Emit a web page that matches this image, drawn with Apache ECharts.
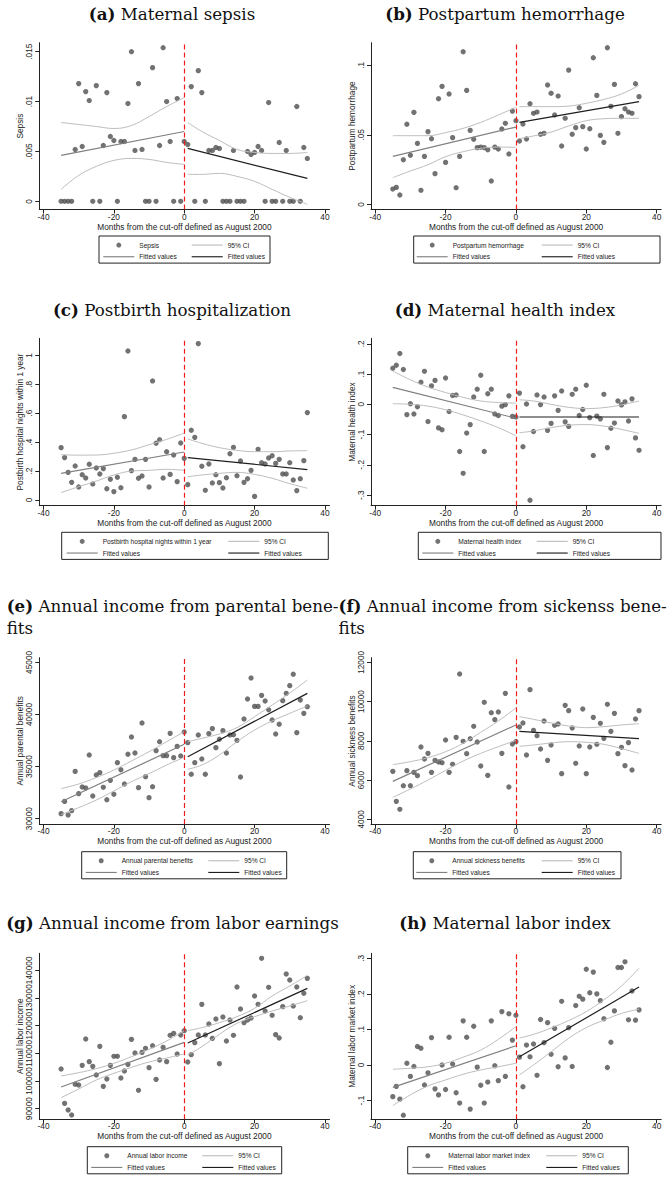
<!DOCTYPE html>
<html><head><meta charset="utf-8">
<script src="https://cdn.jsdelivr.net/npm/echarts@6/dist/echarts.min.js"></script>
<style>html,body{margin:0;padding:0;background:#fff}#c{width:671px;height:1177px}</style>
</head><body><div id="c"></div>
<script>
// ---------- shared x data ----------
const months = [-35,-34,-33,-32,-31,-30,-29,-28,-27,-26,
 -25,-24,-23,-22,-21,-20,-19,-18,-17,-16,
 -15,-14,-13,-12,-11,-10,-9,-8,-7,-6,
 -5,-4,-3,-2,-1,0,1,2,3,4,
 5,6,7,8,9,10,11,12,13,14,
 15,16,17,18,19,20,21,22,23,24,
 25,26,27,28,29,30,31,32,33,34,
 35];
const ciPreX = [-35,-30,-25,-20,-15,-10,-5,0];
const ciPostX = [1,5,10,15,20,25,30,35];
const fitPreX = [-35,0];
const fitPostX = [1,35];
const xTicks = [-40,-20,0,20,40];

// ---------- (a) Maternal sepsis ----------
const sepsisY = [0,0,0,0,0.0052,0.0118,0.0055,0.011,0.0101,0,
 0.0116,0,0.0056,0.0109,0.0065,0.0061,0,0.006,0.006,0.0098,
 0.015,0.0051,0.0118,0.0052,0,0,0.0134,0,0.0056,0.0154,
 0.01,0.006,0,0.0103,0,0.006,0.0057,0.0115,0,0.0131,
 0.0109,0,0.0051,0.0051,0.0054,0.0053,0,0,0,0.0051,
 0,0,0,0.005,0.0047,0.0049,0.0055,0.0051,0,0.0099,
 0,0,0.0059,0,0.0051,0,0,0.0095,0,0.0054,
 0.0043];
const sepsisCiPreHi = [0.0079,0.0077,0.0075,0.0073,0.0076,0.0085,0.0095,0.0104];
const sepsisCiPreLo = [0.0012,0.0026,0.0035,0.0041,0.0043,0.0042,0.0039,0.0037];
const sepsisCiPostHi = [0.0079,0.007,0.0061,0.0052,0.0049,0.0048,0.0048,0.0049];
const sepsisCiPostLo = [0.0027,0.0027,0.0028,0.0025,0.002,0.0012,0.0004,-0.0003];
const sepsisFitPre = [0.0046,0.0070];
const sepsisFitPost = [0.0053,0.0023];
const sepsisTicks = [0,0.005,0.01,0.015];
const sepsisTickLabels = ['0','.005','.01','.015'];

// ---------- (b) Postpartum hemorrhage ----------
const hemorrhageY = [0.011,0.0122,0.0067,0.0321,0.0576,0.0353,0.0662,0.0439,0.0101,0.0345,
 0.0523,0.0472,0.0221,0.076,0.0849,0.0302,0.0794,0.048,0.012,0.0345,
 0.1098,0.082,0.0532,0.0468,0.0408,0.0412,0.0408,0.0393,0.0168,0.0412,
 0.0398,0.0542,0.0583,0.0362,0.0671,0.0602,0.0456,0.0578,0.047,0.0724,
 0.0655,0.0664,0.0504,0.0511,0.0859,0.0799,0.0643,0.0779,0.042,0.0619,
 0.0966,0.0504,0.0552,0.0695,0.0559,0.0398,0.0544,0.1055,0.0784,0.0496,
 0.0446,0.1127,0.0705,0.0863,0.0511,0.0631,0.0688,0.0664,0.0655,0.0868,
 0.0775];
const hemorrhageCiPreHi = [0.0494,0.0494,0.0494,0.0516,0.0547,0.059,0.0643,0.0698];
const hemorrhageCiPreLo = [0.0192,0.024,0.0285,0.0343,0.0379,0.0403,0.0412,0.041];
const hemorrhageCiPostHi = [0.0703,0.0703,0.0703,0.0707,0.0727,0.0755,0.0794,0.0856];
const hemorrhageCiPostLo = [0.0472,0.0492,0.052,0.0564,0.0602,0.0616,0.0619,0.0619];
const hemorrhageFitPre = [0.0345,0.0556];
const hemorrhageFitPost = [0.059,0.0739];
const hemorrhageTicks = [0,0.05,0.1];
const hemorrhageTickLabels = ['0','.05','.1'];

// ---------- (c) Postbirth hospitalization ----------
const hospY = [0.362,0.293,0.191,0.122,0.235,0.09,0.175,0.152,0.247,0.111,
 0.221,0.18,0.217,0.078,0.143,0.058,0.157,0.085,0.576,1.03,
 0.203,0.281,0.15,0.166,0.281,0.09,0.823,0.392,0.417,0.152,
 0.334,0.177,0.311,0.127,0.394,0.288,0.106,0.482,0.433,1.081,
 0.233,0.067,0.249,0.118,0.175,0.12,0.083,0.154,0.32,0.364,
 0.168,0.27,0.122,0.147,0.205,0.025,0.35,0.258,0.249,0.29,
 0.306,0.253,0.281,0.18,0.18,0.258,0.138,0.065,0.147,0.272,
 0.604];
const hospCiPreHi = [0.313,0.31,0.311,0.323,0.346,0.382,0.419,0.463];
const hospCiPreLo = [0.051,0.092,0.131,0.173,0.2,0.205,0.212,0.205];
const hospCiPostHi = [0.422,0.392,0.362,0.343,0.334,0.334,0.339,0.341];
const hospCiPostLo = [0.161,0.173,0.184,0.191,0.177,0.15,0.113,0.081];
const hospFitPre = [0.184,0.332];
const hospFitPost = [0.293,0.21];
const hospTicks = [0,0.2,0.4,0.6,0.8,1];
const hospTickLabels = ['0','.2','.4','.6','.8','1'];

// ---------- (d) Maternal health index ----------
const healthY = [0.119,0.129,0.168,0.115,-0.034,0.002,-0.032,-0.008,0.073,0.109,
 -0.057,0.061,0.079,-0.078,-0.084,0.087,-0.024,0.029,0.031,-0.156,
 -0.228,-0.095,-0.067,0.024,0.05,0.096,-0.156,0.035,0.05,-0.032,
 -0.037,-0.006,-0.001,0.028,-0.04,-0.042,0.037,-0.14,0.001,-0.317,
 -0.09,0.031,-0.001,0.024,-0.086,-0.063,0.028,-0.02,0.044,-0.058,
 -0.073,0.033,0.05,-0.037,-0.017,0.063,-0.044,-0.169,-0.039,-0.048,
 0.033,-0.143,-0.079,-0.062,0.011,-0.002,0.008,-0.055,0.018,-0.111,
 -0.152];
const healthCiPreHi = [0.11,0.081,0.057,0.039,0.023,0.011,0.006,0.004];
const healthCiPreLo = [0.002,0,-0.006,-0.018,-0.035,-0.055,-0.077,-0.104];
const healthCiPostHi = [0.015,0.011,0,-0.01,-0.014,-0.011,-0.002,0.011];
const healthCiPostLo = [-0.094,-0.088,-0.077,-0.069,-0.067,-0.072,-0.083,-0.096];
const healthFitPre = [0.056,-0.046];
const healthFitPost = [-0.042,-0.042];
const healthTicks = [-0.3,-0.2,-0.1,0,0.1,0.2];
const healthTickLabels = ['-.3','-.2','-.1','0','.1','.2'];

// ---------- (e) Annual parental benefits ----------
const parentalY = [30480,31660,30350,30770,34540,32400,33040,32940,36110,32180,
 34190,34420,33010,31820,33680,32340,35380,34700,33330,36180,
 37840,36300,32980,39180,34030,32020,33070,36530,37390,36050,
 36050,38190,35860,36940,36020,38320,37300,34260,35380,38030,
 35730,34260,38160,38640,36820,37620,38450,36300,38030,38060,
 37520,34000,39570,41490,43500,40780,40780,41840,41300,40460,
 39470,38130,39060,41330,42030,42770,43860,38260,41390,40110,
 40750];
const parentalCiPreHi = [32880,33330,33940,34670,35540,36430,37390,38350];
const parentalCiPreLo = [30380,31060,31790,32660,33550,34320,35150,35890];
const parentalCiPostHi = [37390,37710,38130,38740,39790,40910,42060,43310];
const parentalCiPostLo = [34740,35150,36110,37390,38510,39380,40110,40820];
const parentalFitPre = [31630,37140];
const parentalFitPost = [35950,42030];
const parentalTicks = [30000,35000,40000,45000];
const parentalTickLabels = ['30000','35000','40000','45000'];

// ---------- (f) Annual sickness benefits ----------
const sicknessY = [6446,4917,4510,5715,6480,5715,6395,6225,7686,7074,
 7363,6395,7006,6921,6887,8042,6395,6803,8178,11405,
 7975,7346,8110,8739,7941,6718,9962,6242,9435,9079,
 9469,7363,10420,5648,7839,7958,8705,8909,7278,10607,
 8535,8263,7584,9011,7006,7788,8790,8858,6327,9809,
 9537,8654,6854,7737,9622,6327,7686,9197,7822,8892,
 8127,9860,8484,9401,7346,7669,6735,7907,6514,9113,
 9537];
const sicknessCiPreHi = [6786,6938,7142,7448,7873,8433,9011,9673];
const sicknessCiPreLo = [5121,5546,6004,6497,6972,7363,7703,8025];
const sicknessCiPostHi = [9231,9096,8909,8756,8671,8722,8807,8875];
const sicknessCiPostLo = [7720,7788,7890,7958,7924,7822,7601,7363];
const sicknessFitPre = [5936,8807];
const sicknessFitPost = [8484,8110];
const sicknessTicks = [4000,6000,8000,10000,12000];
const sicknessTickLabels = ['4000','6000','8000','10000','12000'];

// ---------- (g) Annual labor income ----------
const laborY = [104340,91930,89520,87710,98800,98550,105660,115180,106990,105300,
 102170,112530,98070,100720,105660,108920,108920,101080,103610,106020,
 115060,110120,96630,110360,111810,104820,112770,100600,107590,112170,
 106990,116510,117230,109760,116630,118190,106870,109520,113860,116630,
 127710,116630,120600,115420,122410,106270,123130,114460,122050,116510,
 133980,126020,121080,122050,122770,130720,127710,144340,125300,133860,
 123740,116750,115540,126870,138680,136510,127110,133980,122890,131690,
 137110];
const laborCiPreHi = [101810,103010,104460,106390,108800,111450,114460,118190];
const laborCiPreLo = [93980,97110,100360,102770,104940,106870,108310,109760];
const laborCiPostHi = [118190,119280,121080,123250,126270,130720,134340,138190];
const laborCiPostLo = [109400,112410,116870,120840,123250,125300,127110,129040];
const laborFitPre = [97830,113980];
const laborFitPost = [113740,133490];
const laborTicks = [90000,100000,110000,120000,130000,140000];
const laborTickLabels = ['90000','100000','110000','120000','130000','140000'];

// ---------- (h) Maternal labor market index ----------
const laborIdxY = [-0.089,-0.06,-0.096,-0.141,0.005,-0.032,-0.004,0.052,0.047,-0.056,
 -0.022,0.077,-0.067,-0.084,0,-0.069,0.078,0.003,-0.078,-0.107,
 0.124,0.078,-0.124,0.109,-0.006,-0.057,-0.107,-0.048,0.124,-0.002,
 -0.044,0.15,-0.032,0.144,0.07,0.14,0.022,-0.061,0.056,0.023,
 0.059,-0.029,0.128,0.063,0.119,0.03,0.103,-0.005,0.179,0.02,
 0.105,-0.004,0.167,0.193,0.185,0.269,0.203,0.261,0.2,0.181,
 0.13,-0.007,0.064,0.152,0.274,0.274,0.29,0.127,0.208,0.126,
 0.155];
const laborIdxCiPreHi = [-0.012,-0.009,-0.005,0.005,0.022,0.042,0.072,0.108];
const laborIdxCiPreLo = [-0.114,-0.084,-0.059,-0.042,-0.026,-0.014,-0.005,0.005];
const laborIdxCiPostHi = [0.076,0.086,0.104,0.125,0.15,0.183,0.222,0.272];
const laborIdxCiPostLo = [-0.028,0,0.037,0.075,0.105,0.126,0.145,0.157];
const laborIdxFitPre = [-0.063,0.054];
const laborIdxFitPost = [0.023,0.219];
const laborIdxTicks = [-0.1,0,0.1,0.2,0.3];
const laborIdxTickLabels = ['-.1','0','.1','.2','.3'];

// ---------- panel configuration (layout + style) ----------
const SANS = "'Liberation Sans', Arial, Helvetica, sans-serif";
const SERIF = "'DejaVu Serif', 'Liberation Serif', serif";
const xName = 'Months from the cut-off defined as August 2000';
const panels = [
 {tag:'(a)', title:'Maternal sepsis', series:'Sepsis', yName:'Sepsis', y:sepsisY,
  ci:[sepsisCiPreHi,sepsisCiPreLo,sepsisCiPostHi,sepsisCiPostLo], fitPre:sepsisFitPre, fitPost:sepsisFitPost,
  ticks:sepsisTicks, labels:sepsisTickLabels, col:0, top:42.7, bottom:209.5, yMin:-0.00082, yMax:0.0159,
  tx:172, ty:14, lg:{l:99, t:236, pad:4.3, w1:52.4, w2:38}},
 {tag:'(b)', title:'Postpartum hemorrhage', series:'Postpartum hemorrhage', yName:'Postpartum hemorrhage', y:hemorrhageY,
  ci:[hemorrhageCiPreHi,hemorrhageCiPreLo,hemorrhageCiPostHi,hemorrhageCiPostLo], fitPre:hemorrhageFitPre, fitPost:hemorrhageFitPost,
  ticks:hemorrhageTicks, labels:hemorrhageTickLabels, col:1, top:42.7, bottom:209.5, yMin:-0.0037, yMax:0.1163,
  tx:505, ty:14, lg:{l:413.7, t:236, pad:3, w1:89, w2:79.3}},
 {tag:'(c)', title:'Postbirth hospitalization', series:'Postbirth hospital nights within 1 year', yName:'Postbirth hospital nights within 1 year', y:hospY,
  ci:[hospCiPreHi,hospCiPreLo,hospCiPostHi,hospCiPostLo], fitPre:hospFitPre, fitPost:hospFitPost,
  ticks:hospTicks, labels:hospTickLabels, col:0, top:338.3, bottom:505.7, yMin:-0.0394, yMax:1.1177,
  tx:172, ty:310, lg:{l:61.7, t:532.3, pad:5, w1:125.6, w2:59}},
 {tag:'(d)', title:'Maternal health index', series:'Maternal health index', yName:'Maternal health index', y:healthY,
  ci:[healthCiPreHi,healthCiPreLo,healthCiPostHi,healthCiPostLo], fitPre:healthFitPre, fitPost:healthFitPost,
  ticks:healthTicks, labels:healthTickLabels, col:1, top:338.3, bottom:505.7, yMin:-0.335, yMax:0.2181,
  tx:505, ty:310, lg:{l:418.3, t:532.3, pad:4, w1:78.4, w2:84.3}},
 {tag:'(e)', title:'Annual income from parental bene-\nfits', series:'Annual parental benefits', yName:'Annual parental benefits', y:parentalY,
  ci:[parentalCiPreHi,parentalCiPreLo,parentalCiPostHi,parentalCiPostLo], fitPre:parentalFitPre, fitPost:parentalFitPost,
  ticks:parentalTicks, labels:parentalTickLabels, col:0, top:657.7, bottom:824, yMin:29488, yMax:45453,
  tx:6.7, ty:594.4, left:true, lg:{l:81.7, t:851.7, pad:4, w1:86.6, w2:38.4}},
 {tag:'(f)', title:'Annual income from sickenss bene-\nfits', series:'Annual sickness benefits', yName:'Annual sickness benefits', y:sicknessY,
  ci:[sicknessCiPreHi,sicknessCiPreLo,sicknessCiPostHi,sicknessCiPostLo], fitPre:sicknessFitPre, fitPost:sicknessFitPost,
  ticks:sicknessTicks, labels:sicknessTickLabels, col:1, top:657.7, bottom:824.3, yMin:3747, yMax:12236,
  tx:338.5, ty:594.4, left:true, lg:{l:413.3, t:851.7, pad:3, w1:89.4, w2:40.3}},
 {tag:'(g)', title:'Annual income from labor earnings', series:'Annual labor income', yName:'Annual labor income', y:laborY,
  ci:[laborCiPreHi,laborCiPreLo,laborCiPostHi,laborCiPostLo], fitPre:laborFitPre, fitPost:laborFitPost,
  ticks:laborTicks, labels:laborTickLabels, col:0, top:953.3, bottom:1119.3, yMin:86158, yMax:146158,
  tx:172.5, ty:923.3, lg:{l:87.3, t:1146.7, pad:4, w1:75, w2:39.4}},
 {tag:'(h)', title:'Maternal labor index', series:'Maternal labor market index', yName:'Maternal labor market index', y:laborIdxY,
  ci:[laborIdxCiPreHi,laborIdxCiPreLo,laborIdxCiPostHi,laborIdxCiPostLo], fitPre:laborIdxFitPre, fitPost:laborIdxFitPost,
  ticks:laborIdxTicks, labels:laborIdxTickLabels, col:1, top:953.3, bottom:1119.3, yMin:-0.1526, yMax:0.3139,
  tx:505, ty:923.3, lg:{l:407.7, t:1146.7, pad:4.6, w1:98, w2:41.4}}
];

const COL_LEFT = [39.3, 371];
const GRID_W = 290.2;
const AX = '#222';
const CI_C = '#bdbdbd', FITPRE_C = '#808080', FITPOST_C = '#1e1e1e', DOT_C = '#4f4f4f';
const LINE_ICON = 'path://M0,0L60,0L60,2.2L0,2.2Z';
const grid = [], xAxis = [], yAxis = [], series = [], legend = [], graphic = [];

panels.forEach((p, i) => {
  grid.push({left: COL_LEFT[p.col], top: p.top, width: GRID_W, height: p.bottom - p.top, containLabel: false, outerBoundsMode: 'none'});
  xAxis.push({
    type: 'value', gridIndex: i, min: -41.2, max: 41.3,
    axisLine: {show: true, onZero: false, lineStyle: {color: AX, width: 1}},
    axisTick: {show: true, length: 4, customValues: xTicks, lineStyle: {color: AX, width: 1}},
    axisLabel: {customValues: xTicks, margin: 3, fontSize: 8.3, color: AX, fontFamily: SANS, showMinLabel: true, showMaxLabel: true},
    splitLine: {show: false},
    name: xName, nameLocation: 'middle', nameGap: 13, nameMoveOverlap: false,
    nameTextStyle: {fontSize: 8.3, color: AX, fontFamily: SANS}
  });
  const tks = p.ticks, lbs = p.labels;
  yAxis.push({
    type: 'value', gridIndex: i, min: p.yMin, max: p.yMax,
    axisLine: {show: true, onZero: false, lineStyle: {color: AX, width: 1}},
    axisTick: {show: true, length: 4, customValues: tks, lineStyle: {color: AX, width: 1}},
    axisLabel: {customValues: tks, rotate: 90, margin: 6, fontSize: 8.3, color: AX, fontFamily: SANS, hideOverlap: false,
      formatter: v => { for (let k = 0; k < tks.length; k++) { if (Math.abs(tks[k] - v) <= Math.abs(tks[tks.length-1] - tks[0]) * 1e-6) return lbs[k]; } return ''; }},
    splitLine: {show: false},
    name: p.yName, nameLocation: 'middle', nameGap: 15, nameMoveOverlap: false,
    nameTextStyle: {fontSize: 8.3, color: AX, fontFamily: SANS}
  });
  series.push({
    type: 'scatter', name: p.series, xAxisIndex: i, yAxisIndex: i,
    data: months.map((m, j) => [m, p.y[j]]),
    symbol: 'circle', symbolSize: 5.3, itemStyle: {color: DOT_C}, z: 2,
    markLine: {silent: true, symbol: 'none', label: {show: false},
      lineStyle: {color: '#ee1c1c', type: [5, 3], width: 1.2}, data: [{xAxis: 0}]}
  });
  const ciXs = [ciPreX, ciPreX, ciPostX, ciPostX];
  p.ci.forEach((arr, k) => {
    series.push({
      type: 'line', name: '95% CI', xAxisIndex: i, yAxisIndex: i,
      data: ciXs[k].map((x, j) => [x, arr[j]]), smooth: 0.4, symbol: 'none', showSymbol: false,
      itemStyle: {color: CI_C}, lineStyle: {color: CI_C, width: 1}, z: 3
    });
  });
  series.push({type: 'line', name: 'Fitted values', xAxisIndex: i, yAxisIndex: i,
    data: fitPreX.map((x, j) => [x, p.fitPre[j]]), symbol: 'none', showSymbol: false,
    itemStyle: {color: FITPRE_C}, lineStyle: {color: FITPRE_C, width: 1.2}, z: 4});
  series.push({type: 'line', name: 'Fitted values (post)', xAxisIndex: i, yAxisIndex: i,
    data: fitPostX.map((x, j) => [x, p.fitPost[j]]), symbol: 'none', showSymbol: false,
    itemStyle: {color: FITPOST_C}, lineStyle: {color: FITPOST_C, width: 1.2}, z: 4});

  const L = p.lg, pitch = L.w1 + 36;
  legend.push({
    show: true, left: L.l, top: L.t, orient: 'horizontal', width: pitch + 36 + L.w2 + 2 * L.pad + 10,
    padding: [3.2, L.pad, 0.5, L.pad], itemGap: 0, itemWidth: 31, itemHeight: 5,
    borderColor: '#222', borderWidth: 1, backgroundColor: '#fff', selectedMode: false,
    itemStyle: {borderWidth: 0}, symbolKeepAspect: true,
    formatter: n => n.replace(' (post)', ''),
    textStyle: {fontSize: 6.6, lineHeight: 11.7, color: AX, fontFamily: SANS},
    data: [
      {name: p.series, icon: 'circle', itemStyle: {color: DOT_C, borderWidth: 0}, textStyle: {width: L.w1}},
      {name: '95% CI', icon: LINE_ICON, itemStyle: {color: CI_C, borderWidth: 0}, textStyle: {width: L.w2}},
      {name: 'Fitted values', icon: LINE_ICON, itemStyle: {color: FITPRE_C, borderWidth: 0}, textStyle: {width: L.w1}},
      {name: 'Fitted values (post)', icon: LINE_ICON, itemStyle: {color: FITPOST_C, borderWidth: 0}, textStyle: {width: L.w2}}
    ]
  });

  graphic.push({
    type: 'text', x: p.tx, y: p.ty, silent: true,
    style: {
      text: '{b|' + p.tag + '} ' + p.title,
      fontFamily: SERIF, fontSize: 16.7, fill: '#111', lineHeight: 22.6,
      align: p.left ? 'left' : 'center', verticalAlign: p.left ? 'top' : 'middle',
      rich: {b: {fontFamily: SERIF, fontSize: 16.7, fontWeight: 'bold', fill: '#111'}}
    }
  });
});

const chart = echarts.init(document.getElementById('c'), null, {renderer: 'svg', width: 671, height: 1177});
chart.setOption({
  animation: false, backgroundColor: '#fff',
  grid, xAxis, yAxis, series, legend, graphic,
  tooltip: {show: false}
});
</script>
</body></html>
